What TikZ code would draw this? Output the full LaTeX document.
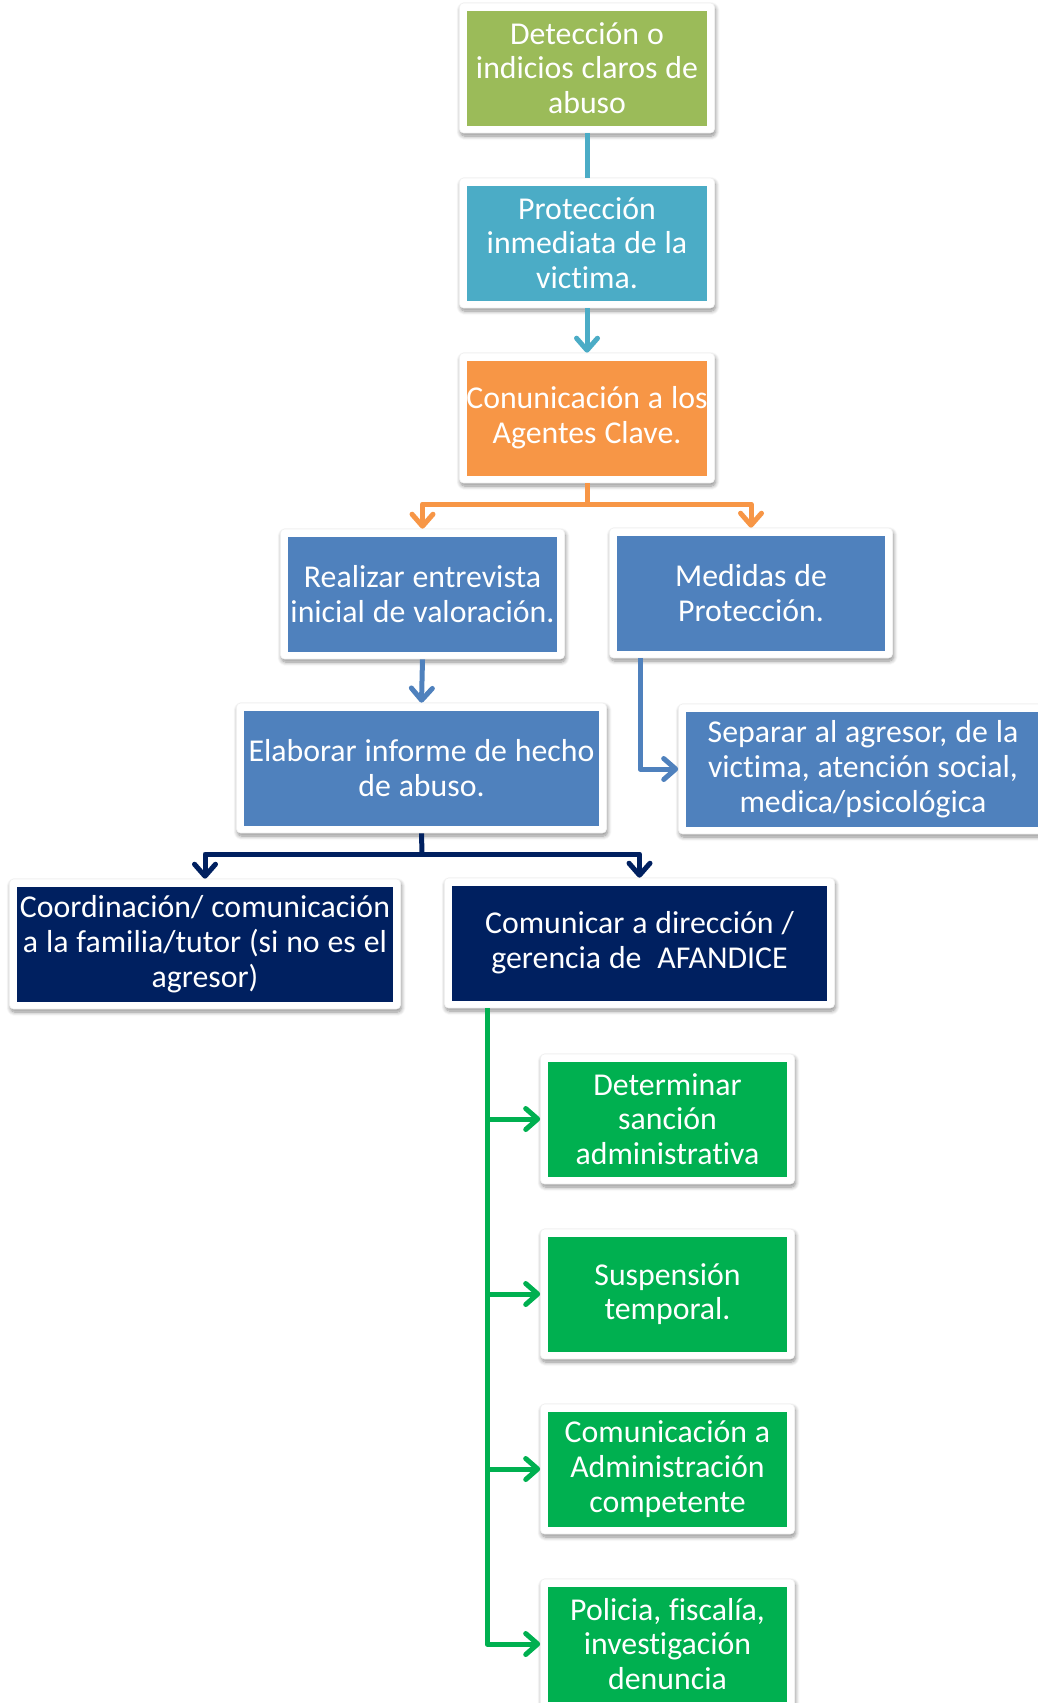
\documentclass[tikz,border=0pt]{standalone}
\usepackage{fontspec}
\setmainfont[RawFeature={-liga}, WordSpace=1.1]{Carlito}
\usetikzlibrary{arrows.meta,shadows.blur}
\definecolor{cGreenA}{HTML}{9BBB59}
\definecolor{cTeal}{HTML}{4BACC6}
\definecolor{cOrange}{HTML}{F79646}
\definecolor{cBlue}{HTML}{4F81BD}
\definecolor{cNavy}{HTML}{002060}
\definecolor{cGreenB}{HTML}{00B050}
\tikzset{
  frame/.style={rectangle, rounded corners=4pt, fill=white, draw=black!6, line width=0.6pt,
    blur shadow={shadow xshift=1pt, shadow yshift=-3pt, shadow blur radius=4pt, shadow blur steps=8, shadow opacity=45}},
  inbox/.style={rectangle, fill=#1, inner sep=0pt},
  intext/.style={text=white, align=center, inner sep=0pt,
    font=\fontsize{31.8}{34.7}\selectfont},
  conn/.style={draw=#1, line width=5pt, line join=round},
  arr/.style={-{Straight Barb[length=12pt,width=21pt,round]}}
}
\newcommand{\flowbox}[7]{%
  \node[frame, minimum width=#4+15, minimum height=#5+15] (#1-f) at (#2,#3) {};
  \node[inbox=#6, minimum width=#4, minimum height=#5] (#1) at (#2,#3) {};
  \node[intext] (#1-t) at (#2,#3) {#7};
}
\begin{document}
\begin{tikzpicture}[x=1pt,y=-1pt]
\useasboundingbox (0,0) rectangle (1038,1703);
\flowbox{b1}{587}{68}{240}{115}{cGreenA}{Detección o\\indicios claros de\\abuso}
\flowbox{b2}{587}{243}{240}{115}{cTeal}{Protección\\inmediata de la\\victima.}
\flowbox{b3}{587}{418}{240}{115}{cOrange}{Conunicación a los\\Agentes Clave.}
\flowbox{b4}{422.5}{594}{269}{115}{cBlue}{Realizar entrevista\\inicial de valoración.}
\flowbox{b5}{751}{593}{268}{115}{cBlue}{Medidas de\\Protección.}
\flowbox{b6}{421.5}{768}{355}{115}{cBlue}{Elaborar informe de hecho\\de abuso.}
\flowbox{b9}{863}{769}{354}{115}{cBlue}{Separar al agresor, de la\\victima, atención social,\\medica/psicológica}
\flowbox{b7}{205}{944}{376}{115}{cNavy}{Coordinación/ comunicación\\a la familia/tutor (si no es el\\agresor)}
\flowbox{b8}{639.5}{943}{375}{115}{cNavy}{Comunicar a dirección /\\gerencia de\ \ AFANDICE}
\flowbox{g1}{667.5}{1119}{239}{115}{cGreenB}{Determinar\\sanción\\administrativa}
\flowbox{g2}{667.5}{1294}{239}{115}{cGreenB}{Suspensión\\temporal.}
\flowbox{g3}{667.5}{1469}{239}{115}{cGreenB}{Comunicación a\\Administración\\competente}
\flowbox{g4}{667.5}{1644}{239}{115}{cGreenB}{Policia, fiscalía,\\investigación\\denuncia}
% connectors
\draw[conn=cTeal] (b1-f.south) -- (b2-f.north);
\draw[conn=cTeal,arr] (b2-f.south) -- (b3-f.north);
\coordinate (j1) at (587,504);
\draw[conn=cOrange] (b3-f.south) -- (j1);
\draw[conn=cOrange,arr] (j1) -| (b4-f.north);
\draw[conn=cOrange,arr] (j1) -| (b5-f.north);
\draw[conn=cBlue,arr] (b4-f.south) -- (b6-f.north);
\coordinate (m5) at (640,658);
\draw[conn=cBlue,arr] (m5) |- (b9-f.west);
\coordinate (j2) at (422,854);
\draw[conn=cNavy] (b6-f.south) -- (j2);
\draw[conn=cNavy,arr] (j2) -| (b7-f.north);
\draw[conn=cNavy,arr] (j2) -| (b8-f.north);
\coordinate (g0) at (487,1008);
\draw[conn=cGreenB,arr] (g0) |- (g1-f.west);
\draw[conn=cGreenB,arr] (g0) |- (g2-f.west);
\draw[conn=cGreenB,arr] (g0) |- (g3-f.west);
\draw[conn=cGreenB,arr] (g0) |- (g4-f.west);
\end{tikzpicture}
\end{document}
